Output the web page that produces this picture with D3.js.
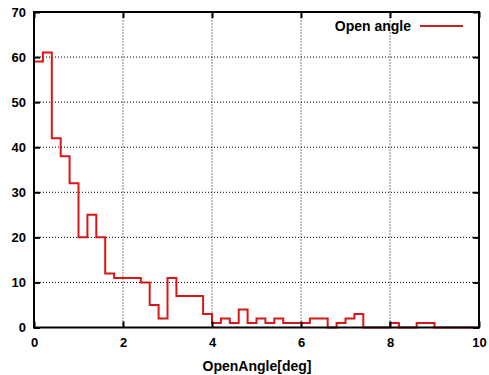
<!DOCTYPE html>
<html>
<head>
<meta charset="utf-8">
<script src="https://cdn.jsdelivr.net/npm/d3@7"></script>
<style>
  html, body { margin: 0; padding: 0; background: #fff; }
  svg { display: block; }
  text { font-family: "Liberation Sans", Arial, Helvetica, sans-serif; fill: #000; }
</style>
</head>
<body>
<svg id="chart" width="489" height="375"></svg>
<script>
// Histogram of opening angles, 0.2 deg bins from 0 to 10
const binWidth = 0.2;
const binStarts = d3.range(50).map(i => +(i * binWidth).toFixed(1));
const counts = [
  59, 61, 42, 38, 32, 20, 25, 20, 12, 11,
  11, 11, 10, 5, 2, 11, 7, 7, 7, 3,
  1, 2, 1, 4, 1, 2, 1, 2, 1, 1,
  1, 2, 2, 0, 1, 2, 3, 0, 0, 0,
  1, 0, 0, 1, 1, 0, 0, 0, 0, 0
];
const xTicks = [0, 2, 4, 6, 8, 10];
const yTicks = [0, 10, 20, 30, 40, 50, 60, 70];
const seriesName = "Open angle";
const xTitle = "OpenAngle[deg]";

const svg = d3.select("#chart");
const m = { left: 34, right: 10, top: 12, bottom: 47.5 };
const W = 489, H = 375;
const x = d3.scaleLinear().domain([0, 10]).range([m.left, W - m.right]);
const y = d3.scaleLinear().domain([0, 70]).range([H - m.bottom, m.top]);

// dotted grid
const grid = svg.append("g").attr("stroke", "#000").attr("stroke-width", 1)
  .attr("stroke-dasharray", "1,2");
xTicks.slice(1, -1).forEach(t => grid.append("line")
  .attr("x1", x(t)).attr("x2", x(t)).attr("y1", y(0)).attr("y2", y(70)));
yTicks.slice(1, -1).forEach(t => grid.append("line")
  .attr("x1", x(0)).attr("x2", x(10)).attr("y1", y(t)).attr("y2", y(t)));

// step outline of the histogram
const pts = [];
binStarts.forEach((s, i) => {
  pts.push([s, counts[i]]);
  pts.push([s + binWidth, counts[i]]);
});
const line = d3.line().x(d => x(d[0])).y(d => y(d[1]));
svg.append("path").datum(pts).attr("d", line)
  .attr("fill", "none").attr("stroke", "#d81818").attr("stroke-width", 2)
  .attr("stroke-linejoin", "miter");

// axes with inward ticks, border frame
const fontSize = 13;
const axB = d3.axisBottom(x).tickValues(xTicks).tickSize(-6).tickPadding(10).tickFormat(d3.format("d"));
const axL = d3.axisLeft(y).tickValues(yTicks).tickSize(-6).tickPadding(8).tickFormat(d3.format("d"));
const axT = d3.axisTop(x).tickValues(xTicks).tickSize(-6).tickFormat("");
const axR = d3.axisRight(y).tickValues(yTicks).tickSize(-6).tickFormat("");

function style(g) {
  g.select(".domain").remove();
  g.selectAll(".tick line").attr("stroke", "#000").attr("stroke-width", 2);
  g.selectAll(".tick text").attr("font-size", fontSize).attr("font-weight", "bold")
    .style("font-family", "'Liberation Sans', Arial, sans-serif");
}
svg.append("g").attr("transform", `translate(0,${y(0)})`).call(axB).call(style);
svg.append("g").attr("transform", `translate(${x(0)},0)`).call(axL).call(style);
svg.append("g").attr("transform", `translate(0,${y(70)})`).call(axT).call(style);
svg.append("g").attr("transform", `translate(${x(10)},0)`).call(axR).call(style);

svg.append("rect").attr("x", x(0)).attr("y", y(70))
  .attr("width", x(10) - x(0)).attr("height", y(0) - y(70))
  .attr("fill", "none").attr("stroke", "#000").attr("stroke-width", 2);

// axis title
svg.append("text").attr("x", 257).attr("y", 371).attr("text-anchor", "middle")
  .attr("font-size", 14).attr("font-weight", "bold").text(xTitle);

// legend
svg.append("text").attr("x", 411).attr("y", 31).attr("text-anchor", "end")
  .attr("font-size", 14).attr("font-weight", "bold").text(seriesName);
svg.append("line").attr("x1", 420).attr("x2", 463).attr("y1", 26).attr("y2", 26)
  .attr("stroke", "#c62226").attr("stroke-width", 2);
</script>
</body>
</html>
